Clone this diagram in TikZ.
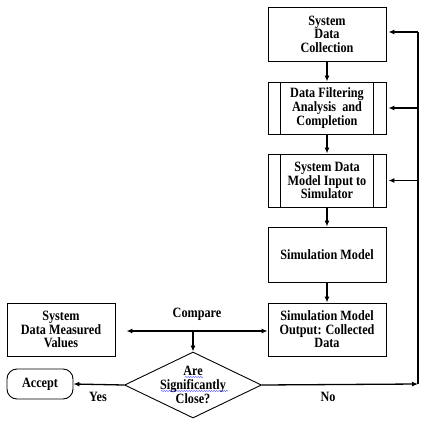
\documentclass[tikz,border=0pt]{standalone}
\usepackage{fontspec}
\setmainfont{Liberation Serif}[FakeStretch=0.86]
\usetikzlibrary{shapes.geometric,arrows.meta,decorations.pathmorphing}
\begin{document}
\begin{tikzpicture}[x=1pt,y=-1pt,
 font=\fontsize{14.2}{13.6}\selectfont\bfseries,
 box/.style={draw, line width=0.9pt, align=center, minimum width=118pt, inner sep=0pt},
 arr/.style={line width=1.3pt, -{Latex[length=6pt,width=5pt]}},
 ln/.style={line width=1.3pt},
 wavy/.style={blue!70, line width=0.45pt, decorate, decoration={snake, amplitude=0.6pt, segment length=2.5pt}}]
\useasboundingbox (0,0) rectangle (424,433);
\node[box, minimum height=54pt] (b1) at (327,34) {System\\Data\\Collection};
\node[box, minimum height=52pt] (b2) at (327,108) {Data Filtering\\Analysis \ and\\Completion};
\draw[line width=0.9pt] ([xshift=13pt]b2.north west) -- ([xshift=13pt]b2.south west);
\draw[line width=0.9pt] ([xshift=-13pt]b2.north east) -- ([xshift=-13pt]b2.south east);
\node[box, minimum height=53pt] (b3) at (327,180.5) {System Data\\Model Input to\\Simulator};
\draw[line width=0.9pt] ([xshift=13pt]b3.north west) -- ([xshift=13pt]b3.south west);
\draw[line width=0.9pt] ([xshift=-13pt]b3.north east) -- ([xshift=-13pt]b3.south east);
\node[box, minimum height=55pt] (b4) at (327,254.5) {Simulation Model};
\node[box, minimum height=53pt] (b5) at (327,329.5) {Simulation Model\\Output: Collected\\Data};
\node[box, minimum width=108pt, minimum height=53pt] (left) at (61,329.5) {System\\Data Measured\\Values};
\node[draw, diamond, line width=0.9pt, minimum width=137pt, minimum height=66pt, inner sep=0pt] (d) at (193,385) {};
\node[align=center, font=\fontsize{14.2}{14}\selectfont\bfseries] (dt) at (193,385) {Are\\Significantly\\Close?};
\draw[wavy] (185,377) -- (203,377);
\draw[wavy] (161,391) -- (228,391);
\node[draw, rounded corners=10pt, line width=0.9pt, minimum width=66pt, minimum height=30pt, inner sep=0pt] (acc) at (40,384) {Accept};
\node (cmp) at (197,314) {Compare};
\node (yes) at (98,397) {Yes};
\node (no) at (328,397) {No};
\draw[arr] (b1) -- (b2);
\draw[arr] (b2) -- (b3);
\draw[arr] (b3) -- (b4);
\draw[arr] (b4) -- (b5);
\coordinate (j) at (193,331);
\draw[arr, shorten >=11pt] (j) -- (left.east |- j);
\draw[arr] (j) -- (b5.west |- j);
\draw[arr] (j) -- (d.north);
\draw[arr] (d.west) -- (acc.east);
\coordinate (r) at (418,384);
\coordinate (top) at (418,32);
\draw[arr] (d.east) -- (r);
\draw[ln] (r) -- (top);
\draw[arr] (top) -- ([xshift=2pt]b1.east |- top);
\draw[arr] (r |- b2.east) -- ([xshift=2pt]b2.east);
\draw[arr] (r |- b3.east) -- ([xshift=2pt]b3.east);
\end{tikzpicture}
\end{document}
